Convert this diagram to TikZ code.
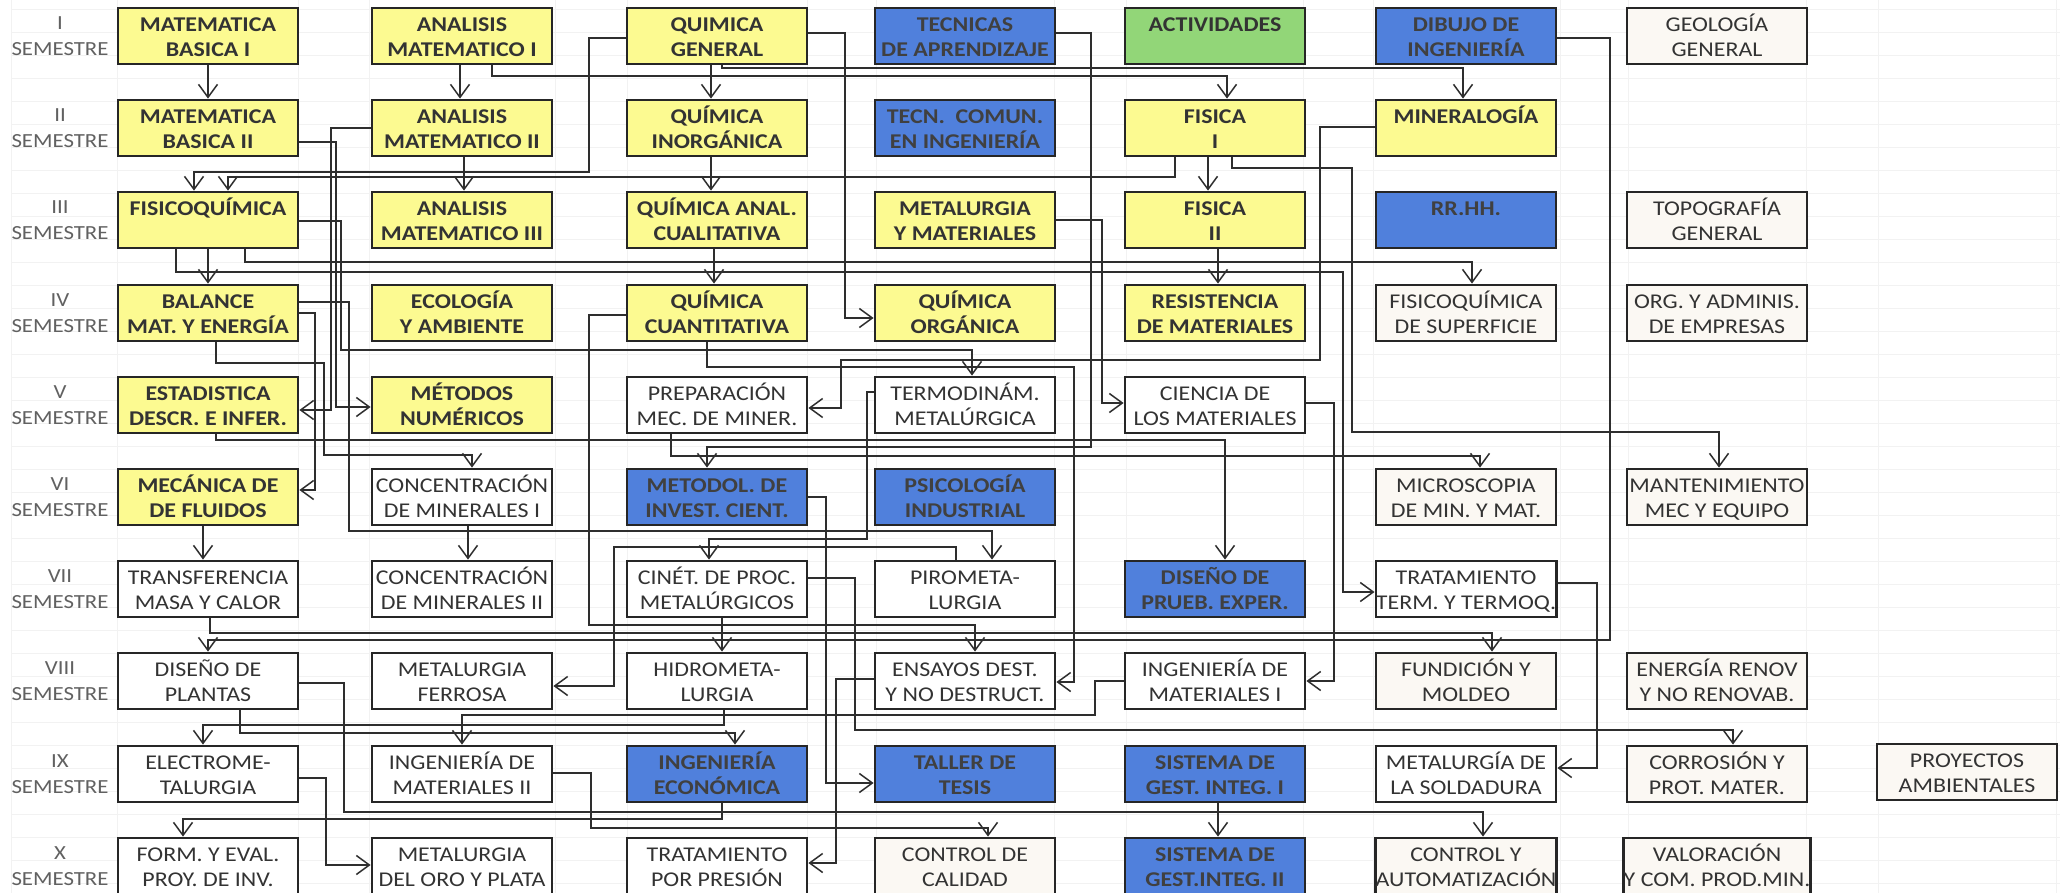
\documentclass[tikz,border=0pt]{standalone}
\usepackage{fontspec}
\setmainfont{Carlito}[FakeStretch=1.14]
\usetikzlibrary{arrows.meta}
\definecolor{ylw}{RGB}{252,250,145}
\definecolor{blu}{RGB}{80,128,220}
\definecolor{grn}{RGB}{146,214,120}
\definecolor{crm}{RGB}{251,248,243}
\begin{document}
\begin{tikzpicture}[x=1pt,y=-1pt,
  box/.style={draw=black!85, line width=2.8pt, minimum width=180pt, minimum height=56pt,
    inner sep=0pt, align=center, text=black!80, text height=48.5pt, text depth=7.5pt,
    font=\fontsize{21}{25}\selectfont},
  one/.style={text height=23.5pt, text depth=32.5pt},
  yb/.style={box, fill=ylw, font=\fontsize{21}{25}\selectfont\bfseries},
  bb/.style={box, fill=blu, text=black!75, font=\fontsize{21}{25}\selectfont\bfseries},
  gb/.style={box, fill=grn, font=\fontsize{21}{25}\selectfont\bfseries},
  wb/.style={box, fill=white},
  cb/.style={box, fill=crm},
  lab/.style={inner sep=0pt, text=black!62, font=\fontsize{20}{22}\selectfont},
  conn/.style={draw=black!82, line width=1.5pt},
  arr/.style={conn, -{Straight Barb[length=13pt,width=19pt,line width=1.5pt]}},
  grid/.style={draw=black!5, line width=0.8pt}
]
\useasboundingbox (0,0) rectangle (2067,893);
\fill[white] (0,0) rectangle (2067,893);
% faint spreadsheet grid
\foreach \gy in {9,32,...,893} \draw[grid] (11,\gy) -- (2060,\gy);
\foreach \gx in {11,117,298,369,555,627,807,876,1054,1126,1303,1373,1560,1628,1806,1878,2056}
  \draw[grid] (\gx,0) -- (\gx,893);

% semester labels
\foreach \r/\num/\yy in {1/I/8,2/II/100,3/III/192,4/IV/285,5/V/377,6/VI/469,7/VII/561,8/VIII/653,9/IX/746,10/X/838}{
  \node[lab] (s\r a) at (60,\yy+15) {\num};
  \node[lab] (s\r b) at (60,\yy+41) {SEMESTRE};
}

% Row I
\node[yb] (mb1) at (208,36) {MATEMATICA\\BASICA I};
\node[yb] (am1) at (462,36) {ANALISIS\\MATEMATICO I};
\node[yb] (qg) at (717,36) {QUIMICA\\GENERAL};
\node[bb] (tec) at (965,36) {TECNICAS\\DE APRENDIZAJE};
\node[gb,one] (act) at (1215,36) {ACTIVIDADES};
\node[bb] (dib) at (1466,36) {DIBUJO DE\\INGENIERÍA};
\node[cb] (geo) at (1717,36) {GEOLOGÍA\\GENERAL};
% Row II
\node[yb] (mb2) at (208,128) {MATEMATICA\\BASICA II};
\node[yb] (am2) at (462,128) {ANALISIS\\MATEMATICO II};
\node[yb] (qin) at (717,128) {QUÍMICA\\INORGÁNICA};
\node[bb] (tcom) at (965,128) {TECN.\ \ COMUN.\\EN INGENIERÍA};
\node[yb] (fi1) at (1215,128) {FISICA\\I};
\node[yb,one] (min) at (1466,128) {MINERALOGÍA};
% Row III
\node[yb,one] (fq) at (208,220) {FISICOQUÍMICA};
\node[yb] (am3) at (462,220) {ANALISIS\\MATEMATICO III};
\node[yb] (qan) at (717,220) {QUÍMICA ANAL.\\CUALITATIVA};
\node[yb] (mym) at (965,220) {METALURGIA\\Y MATERIALES};
\node[yb] (fi2) at (1215,220) {FISICA\\II};
\node[bb,one] (rrhh) at (1466,220) {RR.HH.};
\node[cb] (topo) at (1717,220) {TOPOGRAFÍA\\GENERAL};
% Row IV
\node[yb] (bal) at (208,313) {BALANCE\\MAT. Y ENERGÍA};
\node[yb] (eco) at (462,313) {ECOLOGÍA\\Y AMBIENTE};
\node[yb] (qcu) at (717,313) {QUÍMICA\\CUANTITATIVA};
\node[yb] (qor) at (965,313) {QUÍMICA\\ORGÁNICA};
\node[yb] (res) at (1215,313) {RESISTENCIA\\DE MATERIALES};
\node[cb] (fqs) at (1466,313) {FISICOQUÍMICA\\DE SUPERFICIE};
\node[cb] (org) at (1717,313) {ORG. Y ADMINIS.\\DE EMPRESAS};
% Row V
\node[yb] (est) at (208,405) {ESTADISTICA\\DESCR. E INFER.};
\node[yb] (mnu) at (462,405) {MÉTODOS\\NUMÉRICOS};
\node[wb] (pre) at (717,405) {PREPARACIÓN\\MEC. DE MINER.};
\node[wb] (ter) at (965,405) {TERMODINÁM.\\METALÚRGICA};
\node[wb] (cie) at (1215,405) {CIENCIA DE\\LOS MATERIALES};
% Row VI
\node[yb] (mfl) at (208,497) {MECÁNICA DE\\DE FLUIDOS};
\node[wb] (co1) at (462,497) {CONCENTRACIÓN\\DE MINERALES I};
\node[bb] (met) at (717,497) {METODOL. DE\\INVEST. CIENT.};
\node[bb] (psi) at (965,497) {PSICOLOGÍA\\INDUSTRIAL};
\node[cb] (mic) at (1466,497) {MICROSCOPIA\\DE MIN. Y MAT.};
\node[cb] (man) at (1717,497) {MANTENIMIENTO\\MEC Y EQUIPO};
% Row VII
\node[wb] (tra) at (208,589) {TRANSFERENCIA\\MASA Y CALOR};
\node[wb] (co2) at (462,589) {CONCENTRACIÓN\\DE MINERALES II};
\node[wb] (cin) at (717,589) {CINÉT. DE PROC.\\METALÚRGICOS};
\node[wb] (pir) at (965,589) {PIROMETA-\\LURGIA};
\node[bb] (dpe) at (1215,589) {DISEÑO DE\\PRUEB. EXPER.};
\node[wb] (ttt) at (1466,589) {TRATAMIENTO\\TERM. Y TERMOQ.};
% Row VIII
\node[wb] (dpl) at (208,681) {DISEÑO DE\\PLANTAS};
\node[wb] (mfe) at (462,681) {METALURGIA\\FERROSA};
\node[wb] (hid) at (717,681) {HIDROMETA-\\LURGIA};
\node[wb] (ens) at (965,681) {ENSAYOS DEST.\\Y NO DESTRUCT.};
\node[wb] (im1) at (1215,681) {INGENIERÍA DE\\MATERIALES I};
\node[cb] (fun) at (1466,681) {FUNDICIÓN Y\\MOLDEO};
\node[cb] (ene) at (1717,681) {ENERGÍA RENOV\\Y NO RENOVAB.};
% Row IX
\node[wb] (ele) at (208,774) {ELECTROME-\\TALURGIA};
\node[wb] (im2) at (462,774) {INGENIERÍA DE\\MATERIALES II};
\node[bb] (iec) at (717,774) {INGENIERÍA\\ECONÓMICA};
\node[bb] (tal) at (965,774) {TALLER DE\\TESIS};
\node[bb] (sg1) at (1215,774) {SISTEMA DE\\GEST. INTEG. I};
\node[wb] (sol) at (1466,774) {METALURGÍA DE\\LA SOLDADURA};
\node[cb] (cor) at (1717,774) {CORROSIÓN Y\\PROT. MATER.};
\node[cb] (pam) at (1967,772) {PROYECTOS\\AMBIENTALES};
% Row X
\node[wb] (fev) at (208,866) {FORM. Y EVAL.\\PROY. DE INV.};
\node[wb] (mop) at (462,866) {METALURGIA\\DEL ORO Y PLATA};
\node[wb] (tpp) at (717,866) {TRATAMIENTO\\POR PRESIÓN};
\node[cb] (cca) at (965,866) {CONTROL DE\\CALIDAD};
\node[bb] (sg2) at (1215,866) {SISTEMA DE\\GEST.INTEG. II};
\node[cb] (cau) at (1466,866) {CONTROL Y\\AUTOMATIZACIÓN};
\node[cb] (val) at (1717,866) {VALORACIÓN\\Y COM. PROD.MIN.};

% straight vertical arrows
\draw[arr] (mb1.south) -- (mb2.north);
\draw[arr] (am1.south -| 460,0) -- (am2.north -| 460,0);
\draw[arr] (qg.south -| 711,0) -- (qin.north -| 711,0);
\draw[arr] (am2.south -| 464,0) -- (am3.north -| 464,0);
\draw[arr] (qin.south -| 711,0) -- (qan.north -| 711,0);
\draw[arr] (fi1.south -| 1208,0) -- (fi2.north -| 1208,0);
\draw[arr] (fq.south) -- (bal.north);
\draw[arr] (qan.south -| 714,0) -- (qcu.north -| 714,0);
\draw[arr] (fi2.south -| 1218,0) -- (res.north -| 1218,0);
\draw[arr] (co1.south -| 468,0) -- (co2.north -| 468,0);
\draw[arr] (mfl.south -| 203,0) -- (tra.north -| 203,0);
\draw[arr] (cin.south -| 722,0) -- (hid.north -| 722,0);
\draw[arr] (sg1.south -| 1218,0) -- (sg2.north -| 1218,0);

% routed connectors
\draw[arr] (am1.south -| 492,0) |- (1227,76) -- (fi1.north -| 1227,0);
\draw[arr] (qg.south -| 722,0) |- (1463,68) -- (min.north -| 1463,0);
\draw[arr] (qg.west |- 0,38) -| (589,172) -| (fq.north -| 194,0);
\draw[arr] (qg.east |- 0,33) -| (845,318) -- (qor.west |- 0,318);
\draw[arr] (tec.east |- 0,33) -| (1091,447) -| (met.north -| 707,0);
\draw[arr] (dib.east |- 0,38) -| (1610,640) -| (dpl.north);
\draw[arr] (mb2.east |- 0,142) -| (336,407) -- (mnu.west |- 0,407);
\draw[arr] (am2.west |- 0,128) -| (331,410) -- (est.east |- 0,410);
\draw[arr] (fi1.south -| 1175,0) |- (228,177) -- (fq.north -| 228,0);
\draw[arr] (fi1.south -| 1232,0) |- (1352,168) |- (1719,432) -- (man.north -| 1719,0);
\draw[arr] (min.west |- 0,127) -| (1320,360) -| (841,408) -- (pre.east |- 0,408);
\draw[arr] (fq.south -| 245,0) |- (1472,262) -- (fqs.north -| 1472,0);
\draw[arr] (fq.south -| 176,0) |- (1343,272) |- (ttt.west |- 0,592);
\draw[arr] (fq.east |- 0,221) -| (341,350) -| (ter.north -| 972,0);
\draw[arr] (mym.east |- 0,220) -| (1102,403) -- (cie.west |- 0,403);
\draw[arr] (bal.south -| 216,0) |- (324,363) |- (472,455) -- (co1.north -| 472,0);
\draw[arr] (bal.east |- 0,302) -| (349,531) -| (pir.north -| 992,0);
\draw[arr] (bal.east |- 0,313) -| (315,490) -- (mfl.east |- 0,490);
\draw[arr] (qcu.west |- 0,315) -| (589,625) -| (ens.north -| 975,0);
\draw[arr] (qcu.south -| 707,0) |- (1074,367) |- (ens.east |- 0,682);
\draw[arr] (est.south -| 216,0) |- (1225,440) -- (dpe.north -| 1225,0);
\draw[arr] (pre.south -| 671,0) |- (1480,456) -- (mic.north -| 1480,0);
\draw[arr] (cie.east |- 0,403) -| (1334,681) -- (im1.east |- 0,681);
\draw[arr] (ter.west |- 0,392) -| (867,539) -| (cin.north -| 709,0);
\draw[arr] (met.east |- 0,497) -| (826,783) -- (tal.west |- 0,783);
\draw[arr] (pir.north -| 956,0) |- (614,547) |- (mfe.east |- 0,686);
\draw[arr] (cin.east |- 0,578) -| (855,730) -| (cor.north -| 1733,0);
\draw[arr] (tra.south -| 210,0) |- (1492,633) -- (fun.north -| 1492,0);
\draw[arr] (ttt.east |- 0,583) -| (1597,768) -- (sol.east |- 0,768);
\draw[arr] (ens.west |- 0,679) -| (836,863) -- (tpp.east |- 0,863);
\draw[arr] (im1.west |- 0,681) -| (1095,715) -| (im2.north -| 462,0);
\draw[arr] (hid.south -| 724,0) |- (203,725) -- (ele.north -| 203,0);
\draw[arr] (dpl.south -| 240,0) |- (735,733) -- (iec.north -| 735,0);
\draw[arr] (dpl.east |- 0,683) -| (344,812) -| (cau.north -| 1483,0);
\draw[arr] (ele.east |- 0,778) -| (326,865) -- (mop.west |- 0,865);
\draw[arr] (im2.east |- 0,773) -| (591,828) -| (cca.north -| 988,0);
\draw[arr] (iec.south -| 722,0) |- (183,819) -- (fev.north -| 183,0);
\end{tikzpicture}
\end{document}
